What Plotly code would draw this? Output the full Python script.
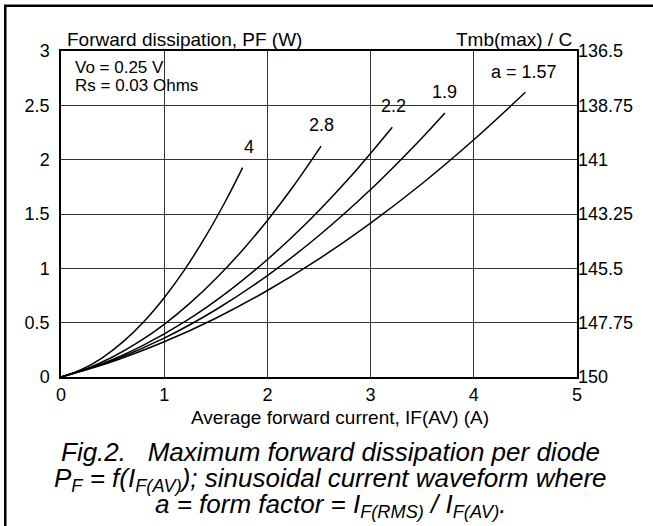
import plotly.graph_objects as go

# ---- data ----
i_a4 = [0, 0.2, 0.4, 0.6, 0.8, 1.0, 1.2, 1.4, 1.6, 1.76]
p_a4 = [0, 0.069, 0.177, 0.323, 0.507, 0.73, 0.991, 1.291, 1.629, 1.927]

i_a28 = [0, 0.25, 0.5, 0.75, 1.0, 1.25, 1.5, 1.75, 2.0, 2.25, 2.52]
p_a28 = [0, 0.077, 0.184, 0.320, 0.485, 0.680, 0.904, 1.158, 1.441, 1.753, 2.124]

i_a22 = [0, 0.4, 0.8, 1.2, 1.6, 2.0, 2.4, 2.8, 3.21]
p_a22 = [0, 0.123, 0.293, 0.509, 0.772, 1.081, 1.436, 1.838, 2.299]

i_a19 = [0, 0.5, 1.0, 1.5, 2.0, 2.5, 3.0, 3.5, 3.72]
p_a19 = [0, 0.152, 0.358, 0.619, 0.933, 1.302, 1.725, 2.202, 2.429]

i_a157 = [0, 0.5, 1.0, 1.5, 2.0, 2.5, 3.0, 3.5, 4.0, 4.5]
p_a157 = [0, 0.143, 0.324, 0.541, 0.796, 1.087, 1.416, 1.781, 2.183, 2.62]

curve_labels = ["4", "2.8", "2.2", "1.9", "a = 1.57"]

x_ticks = [0, 1, 2, 3, 4, 5]
y_ticks = [0, 0.5, 1, 1.5, 2, 2.5, 3]
y_tick_text = ["0", "0.5", "1", "1.5", "2", "2.5", "3"]
tmb_ticks = [150, 147.75, 145.5, 143.25, 141, 138.75, 136.5]
tmb_tick_text = ["150", "147.75", "145.5", "143.25", "141", "138.75", "136.5"]

FONT = "Liberation Sans, Arial, sans-serif"

fig = go.Figure()
series = [(i_a4, p_a4), (i_a28, p_a28), (i_a22, p_a22), (i_a19, p_a19), (i_a157, p_a157)]
for (xs, ys), name in zip(series, curve_labels):
    fig.add_trace(go.Scatter(x=xs, y=ys, mode="lines", name=name,
                             line=dict(color="black", width=1.5, shape="spline"),
                             showlegend=False, hoverinfo="skip"))

# invisible trace for the right-hand temperature axis
fig.add_trace(go.Scatter(x=[0, 5], y=[tmb_ticks[0], tmb_ticks[-1]], yaxis="y2",
                         mode="lines", line=dict(width=0, color="rgba(0,0,0,0)"),
                         showlegend=False, hoverinfo="skip"))

# curve labels
label_pos = [(1.82, 2.12), (2.52, 2.32), (3.22, 2.49), (3.72, 2.62), (4.49, 2.81)]
for (lx, ly), txt in zip(label_pos, curve_labels):
    fig.add_annotation(x=lx, y=ly, text=txt, showarrow=False,
                       font=dict(size=18, color="black", family=FONT),
                       xanchor="center", yanchor="middle")

ann_font = dict(family=FONT, color="black")
fig.add_annotation(xref="paper", yref="paper", x=0.007, y=1.035, text="Forward dissipation, PF (W)",
                   showarrow=False, xanchor="left", yanchor="middle", font=dict(size=19, **ann_font))
fig.add_annotation(xref="paper", yref="paper", x=0.9936, y=1.035, text="Tmb(max) / C",
                   showarrow=False, xanchor="right", yanchor="middle", font=dict(size=19, **ann_font))
fig.add_annotation(xref="paper", yref="paper", x=0.0227, y=0.948, text="Vo = 0.25 V",
                   showarrow=False, xanchor="left", yanchor="middle", font=dict(size=17, **ann_font))
fig.add_annotation(xref="paper", yref="paper", x=0.0227, y=0.895, text="Rs = 0.03 Ohms",
                   showarrow=False, xanchor="left", yanchor="middle", font=dict(size=17, **ann_font))
fig.add_annotation(xref="paper", yref="paper", x=0.54, y=-0.124, text="Average forward current, IF(AV) (A)",
                   showarrow=False, xanchor="center", yanchor="middle", font=dict(size=19, **ann_font))

caption = [
    "<i>Fig.2.   Maximum forward dissipation per diode</i>",
    "<i>P<sub>F</sub> = f(I<sub>F(AV)</sub>); sinusoidal current waveform where</i>",
    "<i>a = form factor = I<sub>F(RMS)</sub> / I<sub>F(AV)</sub>.</i>",
]
cap_y = [-0.229, -0.314, -0.395]
for txt, cy in zip(caption, cap_y):
    fig.add_annotation(xref="paper", yref="paper", x=0.5227, y=cy, text=txt,
                       showarrow=False, xanchor="center", yanchor="middle",
                       font=dict(size=26, **ann_font))

# outer frame
fig.add_shape(type="rect", xref="paper", yref="paper", x0=-0.108, y0=-0.55, x1=1.2, y1=1.1387,
              line=dict(color="black", width=2.5), layer="above")

fig.update_layout(
    width=653, height=526,
    margin=dict(l=61, r=76, t=51, b=149),
    paper_bgcolor="white", plot_bgcolor="white",
    font=dict(family=FONT, size=18, color="black"),
    xaxis=dict(range=[0, 5], tickvals=x_ticks, ticks="", showgrid=True, gridcolor="#333333",
               gridwidth=1, showline=True, linecolor="black", linewidth=1.5, mirror=True,
               zeroline=False, ticklabelstandoff=1, tickfont=dict(size=18)),
    yaxis=dict(range=[0, 3], tickvals=y_ticks, ticktext=y_tick_text, ticks="", showgrid=True,
               gridcolor="#333333", gridwidth=1, showline=True, linecolor="black", linewidth=1.5,
               mirror=True, zeroline=False, ticklabelstandoff=6, tickfont=dict(size=18)),
    yaxis2=dict(range=[150, 136.5], overlaying="y", side="right", tickvals=tmb_ticks,
                ticktext=tmb_tick_text, ticks="", showgrid=False, zeroline=False,
                showline=False, tickfont=dict(size=18), ticklabelstandoff=0),
)

fig.write_html("out.html", config={"displayModeBar": False},
               post_script="document.body.style.margin='0px';")
